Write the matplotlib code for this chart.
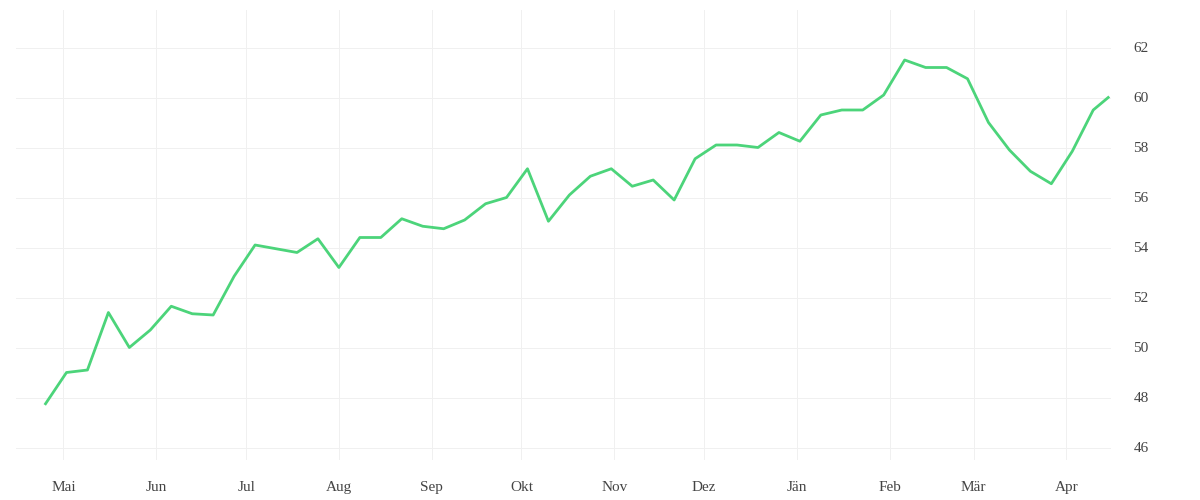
import matplotlib
matplotlib.use("Agg")
import matplotlib.pyplot as plt
import pandas as pd

start = "2022-04-25"
values = [47.75, 49.0, 49.1, 51.4, 50.0, 50.7, 51.65, 51.35, 51.3, 52.85, 54.1, 53.95, 53.8,
          54.35, 53.2, 54.4, 54.4, 55.15, 54.85, 54.75, 55.1, 55.75, 56.0, 57.15, 55.05, 56.1,
          56.85, 57.15, 56.45, 56.7, 55.9, 57.55, 58.1, 58.1, 58.0, 58.6, 58.25, 59.3, 59.5,
          59.5, 60.1, 61.5, 61.2, 61.2, 60.75, 59.0, 57.9, 57.05, 56.55, 57.85, 59.5]
last_date = "2023-04-15"
last_value = 60.0
month_labels = ["Mai", "Jun", "Jul", "Aug", "Sep", "Okt", "Nov", "Dez", "Jän", "Feb", "Mär", "Apr"]

dates = list(pd.date_range(start, periods=len(values), freq="7D")) + [pd.Timestamp(last_date)]
vals = values + [last_value]

plt.rcParams['font.family'] = ['Liberation Serif', 'DejaVu Serif']
fig = plt.figure(figsize=(12, 5), dpi=100)
ax = fig.add_axes([0.013, 0.08, 0.913, 0.9])
ax.plot(dates, vals, color="#4cd47a", lw=2.0)
ticks = pd.date_range("2022-05-01", periods=12, freq="MS")
ax.set_xticks(ticks)
ax.set_xticklabels(month_labels, fontsize=11, color="#444444")
ax.set_xlim(pd.Timestamp("2022-04-15"), pd.Timestamp("2023-04-16"))
ax.set_ylim(45.5, 63.5)
ax.set_yticks(range(46, 63, 2))
ax.yaxis.tick_right()
ax.tick_params(axis="y", labelsize=11, labelcolor="#444444", length=0, pad=16)
ax.tick_params(axis="x", length=0, pad=15)
ax.grid(True, color="#f0f0f0", lw=0.7)
for s in ax.spines.values():
    s.set_visible(False)
fig.savefig("out.png")
